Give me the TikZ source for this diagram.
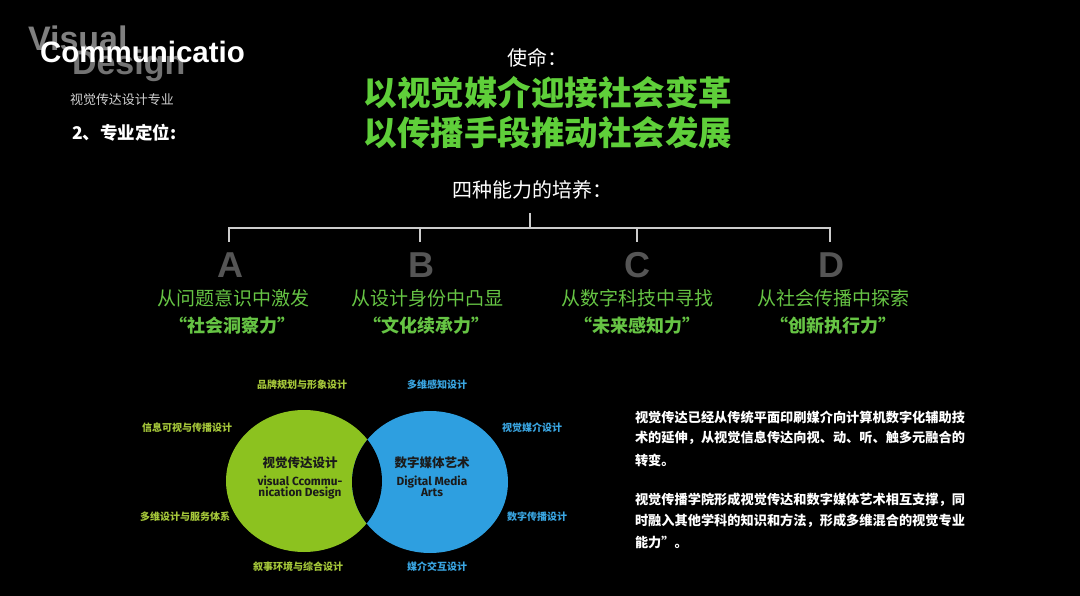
\documentclass[tikz,border=0pt]{standalone}
\usepackage{fontspec}
\setmainfont{Liberation Sans}
\newfontfamily\cjk{Noto Sans CJK SC}
\newfontfamily\dinf{Fira Sans}
\definecolor{vgreen}{HTML}{8CC21F}
\definecolor{vblue}{HTML}{2E9FE0}
\definecolor{mgreen}{HTML}{5FCF3A}
\definecolor{sgreen}{HTML}{66C444}
\definecolor{lgreen}{HTML}{A6C83A}
\definecolor{lblue}{HTML}{3AA6E2}
\definecolor{gtxt}{HTML}{808080}
\definecolor{ltr}{HTML}{555555}
\definecolor{dk}{HTML}{1B1B1B}
\tikzset{
  txt/.style={inner sep=0pt, outer sep=0pt},
  bigbg/.style={txt, anchor=base west, text=gtxt, font=\bfseries\fontsize{34}{36}\selectfont},
  mission/.style={txt, text=mgreen, font=\cjk\bfseries\fontsize{33.5}{40}\selectfont},
  letter/.style={txt, text=ltr, font=\bfseries\fontsize{36}{38}\selectfont},
  subl/.style={txt, text=sgreen, font=\cjk\fontsize{19}{21}\selectfont},
  quot/.style={txt, text=sgreen, font=\cjk\bfseries\fontsize{18}{20}\selectfont},
  tree/.style={draw=white!80!black, line width=1.3pt},
  glab/.style={txt, text=lgreen, font=\cjk\bfseries\fontsize{10}{12}\selectfont},
  blab/.style={txt, text=lblue, font=\cjk\bfseries\fontsize{10}{12}\selectfont},
  ctitle/.style={txt, text=dk, font=\cjk\bfseries\fontsize{12.5}{14}\selectfont},
  cen/.style={txt, anchor=base, text=dk, font=\dinf\bfseries\fontsize{11.8}{12}\selectfont},
  para/.style={txt, anchor=west, text=white, font=\cjk\bfseries\fontsize{13.2}{16}\selectfont},
}
\begin{document}
\begin{tikzpicture}[x=1pt,y=-1pt]
\fill[black] (0,0) rectangle (1080,596);
\useasboundingbox (0,0) rectangle (1080,596);

% top-left heading
\node[bigbg] (vis) at (28,51) {Visual};
\node[bigbg, text=gtxt!90!black] (des) at (72,75) {Design};
\node[txt, anchor=base west, text=white, font=\bfseries\fontsize{29.5}{31}\selectfont] (com) at (40,63) {Communicatio};
\node[txt, anchor=west, text=white!82!black, font=\cjk\fontsize{13}{15}\selectfont] (maj) at (70,100) {视觉传达设计专业};
\node[txt, anchor=west, text=white, font=\cjk\bfseries\fontsize{17.5}{20}\selectfont] (pos) at (72,133) {2、专业定位:};

% mission
\node[txt, anchor=west, text=white, font=\cjk\fontsize{20}{22}\selectfont] (sm) at (507,58) {使命：};
\node[mission] (m1) at (548,93) {以视觉媒介迎接社会变革};
\node[mission] (m2) at (548,133) {以传播手段推动社会发展};
\node[txt, anchor=west, text=white, font=\cjk\fontsize{20}{22}\selectfont] (four) at (452,190) {四种能力的培养：};

% tree
\coordinate (hub) at (530,213);
\coordinate (bar) at (0,228);
\coordinate (dA) at (229,242);
\coordinate (dB) at (420,242);
\coordinate (dC) at (637,242);
\coordinate (dD) at (830,242);
\draw[tree] (hub) -- (hub |- bar);
\draw[tree] (dA) -- (dA |- bar) -- (dD |- bar) -- (dD);
\draw[tree] (dB) -- (dB |- bar);
\draw[tree] (dC) -- (dC |- bar);

\node[letter] (lA) at (230,265) {A};
\node[letter] (lB) at (421,265) {B};
\node[letter] (lC) at (637,265) {C};
\node[letter] (lD) at (831,265) {D};

\node[subl] (sA) at (233,298) {从问题意识中激发};
\node[subl] (sB) at (427,298) {从设计身份中凸显};
\node[subl] (sC) at (637,298) {从数字科技中寻找};
\node[subl] (sD) at (833,298) {从社会传播中探索};
\node[quot] (qA) at (232,326) {“社会洞察力”};
\node[quot] (qB) at (426,326) {“文化续承力”};
\node[quot] (qC) at (637,326) {“未来感知力”};
\node[quot] (qD) at (833,326) {“创新执行力”};

% venn
\fill[vgreen] (304,481) ellipse [x radius=78, y radius=71];
\fill[vblue] (430,482) ellipse [x radius=78, y radius=71];
\begin{scope}
  \clip (304,481) ellipse [x radius=78, y radius=71];
  \fill[black] (430,482) ellipse [x radius=78, y radius=71];
\end{scope}

\node[ctitle] (vt) at (300,463) {视觉传达设计};
\node[cen] (ve1) at (300,485) {visual Ccommu-};
\node[cen] (ve2) at (300,496) {nication Design};
\node[ctitle] (dt) at (432,463) {数字媒体艺术};
\node[cen] (de1) at (432,485) {Digital Media};
\node[cen] (de2) at (432,496) {Arts};

\node[glab] (g1) at (302,385) {品牌规划与形象设计};
\node[glab] (g2) at (187,428) {信息可视与传播设计};
\node[glab] (g3) at (185,517) {多维设计与服务体系};
\node[glab] (g4) at (298,567) {叙事环境与综合设计};
\node[blab] (b1) at (437,385) {多维感知设计};
\node[blab] (b2) at (532,428) {视觉媒介设计};
\node[blab] (b3) at (537,517) {数字传播设计};
\node[blab] (b4) at (437,567) {媒介交互设计};

% paragraph
\node[para] (p1) at (635,417) {视觉传达已经从传统平面印刷媒介向计算机数字化辅助技};
\node[para] (p2) at (635,438) {术的延伸，从视觉信息传达向视、动、听、触多元融合的};
\node[para] (p3) at (635,460) {转变。};
\node[para] (p4) at (635,500) {视觉传播学院形成视觉传达和数字媒体艺术相互支撑，同};
\node[para] (p5) at (635,521) {时融入其他学科的知识和方法，形成多维混合的视觉专业};
\node[para] (p6) at (635,543) {能力”。};
\end{tikzpicture}
\end{document}
